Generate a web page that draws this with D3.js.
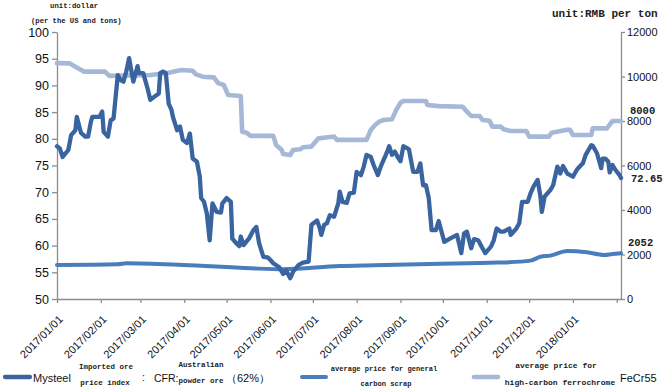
<!DOCTYPE html>
<html>
<head>
<meta charset="utf-8">
<script src="https://cdn.jsdelivr.net/npm/d3@7"></script>
<style>
  html, body { margin: 0; padding: 0; background: #fff; }
  svg { display: block; }
  .mono { font-family: "Liberation Mono", "DejaVu Sans Mono", monospace; font-weight: bold; fill: #222; }
  .sans { font-family: "Liberation Sans", Arial, sans-serif; fill: #111; }
</style>
</head>
<body>
<svg id="chart" width="670" height="390"></svg>
<script>
// ---- Data ----
// Day offsets from 2017-01-01
const oreDays = [0,2,4,8,10,13,14,17,20,22,24,25,30,32,33,36,38,40,43,45,47,49,51,54,57,58,61,64,66,69,72,73,75,77,79,81,82,85,87,89,92,94,96,99,101,102,104,106,108,110,113,116,117,120,123,124,127,129,130,132,136,139,141,143,146,149,151,153,157,160,162,165,167,171,174,178,180,184,186,187,189,191,193,196,199,200,202,205,207,210,212,215,217,219,222,224,227,229,232,234,235,237,239,241,243,245,248,249,252,255,257,259,261,263,265,268,270,274,278,283,286,288,290,293,295,298,301,303,307,309,311,314,316,320,321,325,327,329,333,335,337,340,342,343,345,349,351,354,356,358,361,365,368,372,374,378,379,382,385,386,388,390,391,393,395,398,399];
// Mysteel imported ore price index CFR Australian powder ore (62%), USD/t
const oreValues = [78.6,78.2,76.6,77.9,80.7,81.6,84.1,81.1,80.4,80.4,83.2,84.1,84.1,85.1,81.3,80.4,83.5,83.8,91.9,91.0,90.7,92.6,95.1,90.7,93.6,92.3,92.3,89.5,87.3,87.9,88.5,92.3,92.6,92.3,86.6,85.4,84.1,81.6,82.3,79.8,79.2,81.0,76.3,75.7,72.9,68.9,68.2,66.0,61.0,67.9,66.3,66.2,67.9,68.9,68.2,61.3,60.4,59.9,61.7,60.1,61.4,62.9,63.5,60.4,57.9,57.8,57.3,56.7,56.0,54.7,55.4,53.9,55.1,56.4,56.8,57.0,63.9,64.7,63.2,62.0,63.9,64.2,65.7,65.4,67.9,70.1,68.2,68.0,69.8,69.9,73.8,73.2,74.8,77.0,76.6,75.1,73.2,74.8,76.6,77.9,78.6,77.0,77.6,76.6,75.8,78.6,78.2,78.0,73.8,73.8,75.4,71.3,71.3,68.9,62.9,62.9,64.6,60.7,61.3,62.0,58.6,62.3,62.6,59.5,61.2,61.0,59.5,58.6,59.8,61.0,63.2,62.6,62.6,63.2,62.0,63.2,64.2,68.2,68.2,69.8,71.0,72.3,69.2,66.3,69.2,70.4,71.3,74.8,73.5,74.9,73.5,72.9,74.3,75.4,77.0,78.8,78.7,77.3,74.5,76.3,76.3,75.7,73.7,75.1,74.2,73.2,72.65];

// Average price for general carbon scrap, RMB/t
const scrapDays   = [0,43,49,89,137,160,200,224,264,312,335,342,349,361,375,387,393,399];
const scrapValues = [1530,1560,1605,1530,1380,1335,1480,1515,1575,1635,1725,1900,1950,2160,2100,1980,2020,2052];

// Average price for high-carbon ferrochrome FeCr55, RMB/t
const ferroDays   = [0,9,13,19,34,37,66,72,79,88,96,98,103,111,114,118,121,130,131,134,137,153,155,159,160,165,167,172,174,180,185,192,196,198,219,222,225,228,231,237,240,243,245,261,262,270,287,290,293,299,301,306,308,314,316,321,332,334,348,350,360,363,365,378,379,389,393,399];
const ferroValues = [10600,10590,10440,10220,10220,10030,10070,10110,10170,10290,10260,10110,9990,9960,9700,9620,9170,9120,7520,7475,7330,7330,6920,6700,6520,6470,6700,6730,6820,6850,7220,7270,7300,7150,7150,7600,7820,7970,8045,8075,8500,8820,8900,8900,8720,8670,8640,8420,8225,8225,8045,8015,7745,7745,7630,7550,7550,7300,7300,7475,7600,7600,7370,7370,7670,7670,8000,8000];

const leftTicks  = [50,55,60,65,70,75,80,85,90,95,100];
const rightTicks = [0,2000,4000,6000,8000,10000,12000];
const monthTicks = ["2017-01-01","2017-02-01","2017-03-01","2017-04-01","2017-05-01","2017-06-01","2017-07-01","2017-08-01","2017-09-01","2017-10-01","2017-11-01","2017-12-01","2018-01-01","2018-02-01"];
const endLabels  = ["8000","72.65","2052"];

// ---- Drawing ----
const svg = d3.select("#chart");
const base = new Date(2017,0,1);
const toDate = d => d3.timeDay.offset(base, d);
const parse = s => { const p = s.split("-").map(Number); return new Date(p[0], p[1]-1, p[2]); };

const x  = d3.scaleTime().domain([base, new Date(2018,1,4)]).range([57, 621]);
const yL = d3.scaleLinear().domain([50,100]).range([299,32]);
const yR = d3.scaleLinear().domain([0,12000]).range([299,32]);

const axisColor = "#8c8c8c";
function styleAxis(g){
  g.selectAll("path.domain").attr("stroke", axisColor).attr("stroke-width",1.3);
  g.selectAll(".tick line").attr("stroke", axisColor).attr("stroke-width",1.3);
  g.selectAll("text").attr("font-family","'Liberation Sans', Arial, sans-serif").attr("fill","#111");
}

// left axis
const gL = svg.append("g").attr("transform","translate(57,0)")
  .call(d3.axisLeft(yL).tickValues(leftTicks).tickSize(5).tickSizeOuter(0).tickPadding(3));
styleAxis(gL);
gL.selectAll("text").attr("font-size",12.5);

// right axis
const gR = svg.append("g").attr("transform","translate(621,0)")
  .call(d3.axisRight(yR).tickValues(rightTicks).tickSize(4).tickSizeOuter(0).tickPadding(2).tickFormat(d3.format("d")));
styleAxis(gR);
gR.selectAll("text").attr("font-size",11);

// bottom axis
const fmt = d3.timeFormat("%Y/%m/%d");
const mDates = monthTicks.map(parse);
const gB = svg.append("g").attr("transform","translate(0,299)")
  .call(d3.axisBottom(x).tickValues(mDates).tickSize(4).tickSizeOuter(0)
    .tickFormat((d,i) => i < mDates.length-1 ? fmt(d) : ""));
styleAxis(gB);
gB.selectAll(".tick text")
  .attr("font-size",11)
  .attr("x",0).attr("y",0).attr("dy",0)
  .attr("text-anchor","end")
  .attr("transform","translate(6,21) rotate(-45)");

// lines
const lineL = d3.line().x(d => x(toDate(d[0]))).y(d => yL(d[1]));
const lineR = d3.line().x(d => x(toDate(d[0]))).y(d => yR(d[1]));

const cFerro = "#a6b8d8", cScrap = "#4a7dbd", cOre = "#3a64a0";

svg.append("path").datum(d3.zip(ferroDays, ferroValues))
  .attr("d", lineR).attr("fill","none").attr("stroke",cFerro)
  .attr("stroke-width",4.6).attr("stroke-linejoin","round").attr("stroke-linecap","round");
svg.append("path").datum(d3.zip(scrapDays, scrapValues))
  .attr("d", lineR.curve(d3.curveMonotoneX)).attr("fill","none").attr("stroke",cScrap)
  .attr("stroke-width",4).attr("stroke-linejoin","round").attr("stroke-linecap","round");
svg.append("path").datum(d3.zip(oreDays, oreValues))
  .attr("d", lineL).attr("fill","none").attr("stroke",cOre)
  .attr("stroke-width",4.3).attr("stroke-linejoin","round").attr("stroke-linecap","round");

// end value labels
svg.append("text").attr("class","mono").attr("font-size",10.5)
  .attr("x",630).attr("y", yR(+endLabels[0]) - 7.5).text(endLabels[0]);
svg.append("text").attr("class","mono").attr("font-size",10.5)
  .attr("x",631).attr("y", yL(+endLabels[1]) + 4).text(endLabels[1]);
svg.append("text").attr("class","mono").attr("font-size",10.5)
  .attr("x",628).attr("y", yR(+endLabels[2]) - 7).text(endLabels[2]);

// unit labels
svg.append("text").attr("class","mono").attr("font-size",7.3).attr("x",50).attr("y",8).text("unit:dollar");
svg.append("text").attr("class","mono").attr("font-size",7.2).attr("x",31).attr("y",23).text("(per the US and tons)");
svg.append("text").attr("class","mono").attr("font-size",11).attr("x",552).attr("y",17).text("unit:RMB per ton");

// legend
function legLine(x1,x2,y,c,w){
  svg.append("line").attr("x1",x1).attr("x2",x2).attr("y1",y).attr("y2",y)
    .attr("stroke",c).attr("stroke-width",w).attr("stroke-linecap","round");
}
legLine(5,30,377,cOre,4.3);
legLine(302,326,377,cScrap,4);
legLine(474,498,377,cFerro,4.6);

const legTexts = [
  {t:"Mysteel", x:33, y:381.5, cls:"sans", fs:11, a:"start"},
  {t:"Imported ore", x:106, y:369, cls:"mono", fs:7.5, a:"middle"},
  {t:"price index", x:105, y:384.5, cls:"mono", fs:7.5, a:"middle"},
  {t:":", x:142, y:381, cls:"sans", fs:10.5, a:"start"},
  {t:"CFR:", x:154, y:381.5, cls:"sans", fs:10.5, a:"start"},
  {t:"Australian", x:201, y:367, cls:"mono", fs:7.5, a:"middle"},
  {t:"powder ore", x:201, y:383, cls:"mono", fs:7.5, a:"middle"},
  {t:"（62%）", x:226, y:381.5, cls:"sans", fs:11, a:"start"},
  {t:"average price for general", x:384, y:371, cls:"mono", fs:7.1, a:"middle"},
  {t:"carbon scrap", x:386, y:386, cls:"mono", fs:7.1, a:"middle"},
  {t:"average price for", x:556, y:368, cls:"mono", fs:8, a:"middle"},
  {t:"high-carbon ferrochrome", x:560, y:384.5, cls:"mono", fs:8, a:"middle"},
  {t:"FeCr55", x:620, y:381.5, cls:"sans", fs:11, a:"start"}
];
legTexts.forEach(d => {
  svg.append("text").attr("class", d.cls).attr("font-size", d.fs)
    .attr("x", d.x).attr("y", d.y).attr("text-anchor", d.a).text(d.t);
});
</script>
</body>
</html>
